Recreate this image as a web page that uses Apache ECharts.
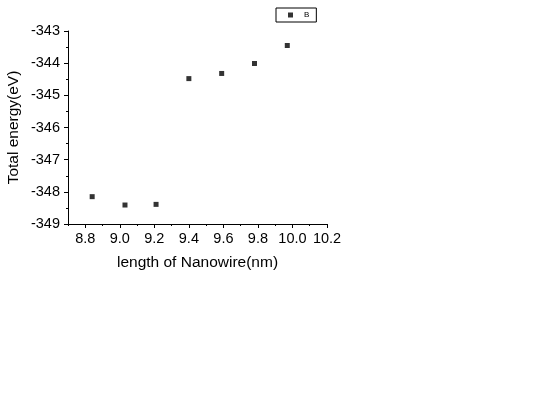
<!DOCTYPE html>
<html>
<head>
<meta charset="utf-8">
<script src="https://cdn.jsdelivr.net/npm/echarts@6/dist/echarts.min.js"></script>
<style>
	html, body { margin: 0; padding: 0; background: #fff; }
	#main { width: 540px; height: 405px; }
</style>
</head>
<body>
<div id="main"></div>
<script>
	// data
	var lengths = [8.84, 9.03, 9.21, 9.40, 9.59, 9.78, 9.97]
	var energies = [-348.15, -348.41, -348.39, -344.48, -344.32, -344.01, -343.45]
	var xMajorTicks = [8.8, 9.0, 9.2, 9.4, 9.6, 9.8, 10.0, 10.2]
	var xMinorTicks = [8.7, 8.9, 9.1, 9.3, 9.5, 9.7, 9.9, 10.1]

	var font = 'Liberation Sans, Arial, sans-serif'
	var points = lengths.map(function (x, i) { return [x, energies[i]] })

	var myChart = echarts.init(document.getElementById('main'))
	var option = {
		animation: false,
		backgroundColor: '#fff',
		grid: {
			left: 68,
			right: 213,
			top: 31,
			bottom: 181
		},
		legend: {
			left: 276,
			top: 8,
			padding: [3, 7, 3, 12],
			itemWidth: 5,
			itemHeight: 5,
			itemGap: 4,
			borderColor: '#000',
			borderWidth: 1,
			textStyle: { fontSize: 8, fontFamily: font, color: '#000', padding: [0, 0, 0, 6] },
			data: [{ name: 'B', icon: 'rect' }]
		},
		xAxis: [{
			type: 'value',
			min: 8.7,
			max: 10.2,
			position: 'bottom',
			name: 'length of Nanowire(nm)',
			nameLocation: 'middle',
			nameGap: 31,
			nameTextStyle: { fontSize: 15.5, fontFamily: font, color: '#000' },
			axisLine: { lineStyle: { color: '#000', width: 1 } },
			axisTick: { customValues: xMajorTicks, length: 4, lineStyle: { color: '#000' } },
			axisLabel: {
				customValues: xMajorTicks,
				margin: 7,
				fontSize: 14.5,
				fontFamily: font,
				color: '#000',
				formatter: function (v) { return v.toFixed(1) }
			},
			splitLine: { show: false }
		}, {
			type: 'value',
			min: 8.7,
			max: 10.2,
			position: 'bottom',
			offset: 0,
			axisLine: { show: false },
			axisTick: { customValues: xMinorTicks, length: 2, lineStyle: { color: '#000' } },
			axisLabel: { show: false },
			splitLine: { show: false }
		}],
		yAxis: {
			type: 'value',
			min: -349,
			max: -343,
			interval: 1,
			name: 'Total energy(eV)',
			nameLocation: 'middle',
			nameGap: 46,
			nameTextStyle: { fontSize: 15.5, fontFamily: font, color: '#000' },
			axisLine: { show: true, lineStyle: { color: '#000', width: 1 } },
			axisTick: { show: true, length: 4, lineStyle: { color: '#000' } },
			minorTick: { show: true, splitNumber: 2, length: 2, lineStyle: { color: '#000' } },
			axisLabel: { margin: 8, fontSize: 14.5, fontFamily: font, color: '#000' },
			splitLine: { show: false }
		},
		series: [{
			name: 'B',
			type: 'scatter',
			symbol: 'rect',
			symbolSize: 5,
			itemStyle: { color: '#000' },
			data: points
		}]
	}
	myChart.setOption(option)
</script>
</body>
</html>
